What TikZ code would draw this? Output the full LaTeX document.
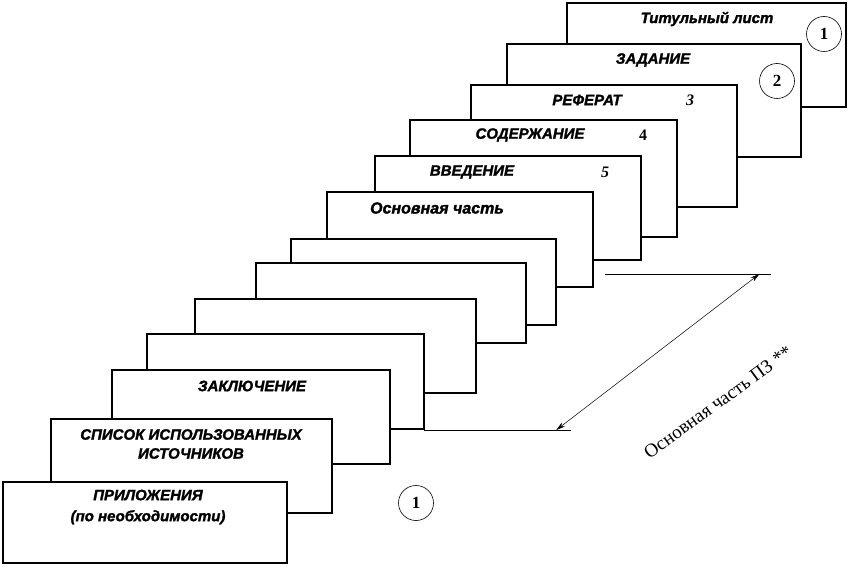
\documentclass[tikz,border=0pt]{standalone}
\usepackage{fontspec}
\setmainfont{Liberation Serif}
\newfontfamily\sheetfont{Liberation Sans}[BoldItalicFeatures={FakeBold=1.6}]
\usetikzlibrary{arrows.meta}

\tikzset{sheet/.style={draw,fill=white,line width=1.6pt,anchor=north west,inner sep=0pt,outer sep=0pt},
	title/.style={font=\sheetfont\bfseries\itshape\fontsize{15}{19}\selectfont,align=center,inner sep=0pt},
	pagenum/.style={font=\bfseries\fontsize{16}{18}\selectfont,inner sep=0pt},
	ring/.style={draw,circle,line width=.6pt,minimum size=35pt,inner sep=0pt,font=\bfseries\fontsize{17}{18}\selectfont}}

\begin{document}
\begin{tikzpicture}[x=1pt,y=-1pt,>={Stealth[length=9pt,width=5pt]}]
	\useasboundingbox (0,0) rectangle (849,567);

	\node[sheet,minimum width=279pt,minimum height=104pt](titul) at (567,3){};
	\node[title](titul-t) at (707,19){Титульный лист};
	\node[ring](ring-a) at (824,34){1};

	\node[sheet,minimum width=294pt,minimum height=113pt](zadanie) at (507,44){};
	\node[title](zadanie-t) at (653,60){ЗАДАНИЕ};
	\node[ring](ring-b) at (777,81){2};

	\node[sheet,minimum width=266pt,minimum height=122pt](referat) at (471,85){};
	\node[title](referat-t) at (587,100){РЕФЕРАТ};
	\node[pagenum,font=\bfseries\itshape\fontsize{16}{18}\selectfont](referat-n) at (690,100){3};

	\node[sheet,minimum width=267pt,minimum height=117pt](soderzh) at (410,120){};
	\node[title](soderzh-t) at (530,135){СОДЕРЖАНИЕ};
	\node[pagenum](soderzh-n) at (643,135){4};

	\node[sheet,minimum width=266pt,minimum height=104pt](vveden) at (375,156){};
	\node[title](vveden-t) at (472,172){ВВЕДЕНИЕ};
	\node[pagenum,font=\bfseries\itshape\fontsize{16}{18}\selectfont](vveden-n) at (605,172){5};

	\node[sheet,minimum width=266pt,minimum height=95pt](osnov) at (327,192){};
	\node[title,font=\sheetfont\bfseries\itshape\fontsize{16}{19}\selectfont](osnov-t) at (437,208){Основная часть};

	\node[sheet,minimum width=265pt,minimum height=86pt](blank-a) at (291,239){};
	\node[sheet,minimum width=270pt,minimum height=80pt](blank-b) at (256,263){};
	\node[sheet,minimum width=281pt,minimum height=94pt](blank-c) at (195,299){};
	\node[sheet,minimum width=277pt,minimum height=95pt](blank-d) at (147,334){};

	\node[sheet,minimum width=278pt,minimum height=94pt](zakl) at (112,370){};
	\node[title](zakl-t) at (252,386){ЗАКЛЮЧЕНИЕ};

	\node[sheet,minimum width=281pt,minimum height=94pt](spisok) at (51,419){};
	\node[title](spisok-t) at (191,444){СПИСОК ИСПОЛЬЗОВАННЫХ\\ИСТОЧНИКОВ};

	\node[sheet,minimum width=284pt,minimum height=81pt](prilozh) at (3,482){};
	\node[title](prilozh-t) at (148,507){ПРИЛОЖЕНИЯ\\[2pt](по необходимости)};
	\node[ring](ring-c) at (416,503){1};

	\coordinate (top-a) at (605,274);
	\coordinate (top-b) at (771,274);
	\coordinate (bot-b) at (571,430);
	\draw[line width=.8pt](top-a) -- coordinate[pos=.93](top-y) (top-b);
	\draw[line width=.8pt](blank-d.south east|-bot-b) -- coordinate[pos=.9](bot-y) (bot-b);
	\draw[<->,line width=.5pt](bot-y) -- (top-y);
	\node[rotate=36,font=\fontsize{19}{20}\selectfont](dim) at (718,402){Основная часть ПЗ **};

\end{tikzpicture}
\end{document}
